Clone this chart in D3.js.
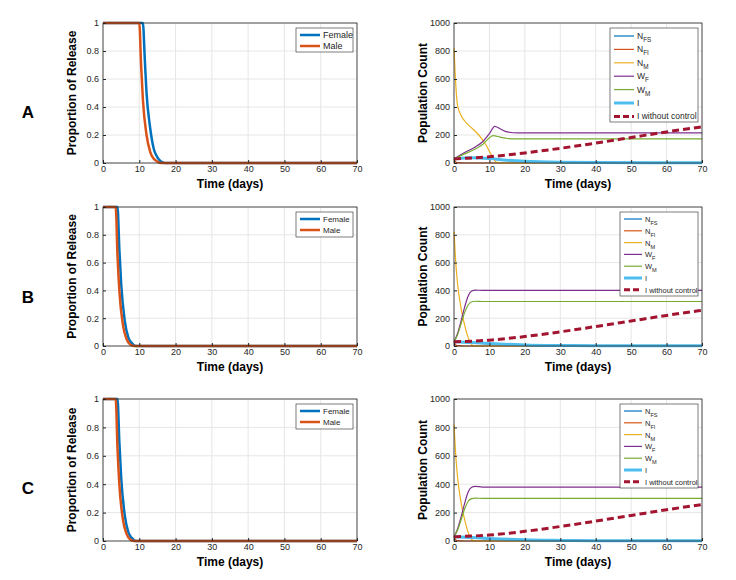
<!DOCTYPE html><html><head><meta charset="utf-8"><script src="https://cdn.jsdelivr.net/npm/d3@7"></script>
<style>body{margin:0;background:#fff}text{font-family:"Liberation Sans",Arial,sans-serif}</style></head><body><svg id="c" width="736" height="580"></svg>
<script>
const rowLabels=["A","B","C"];
const xTicks=[0,10,20,30,40,50,60,70];
const propTicks=[0,0.2,0.4,0.6,0.8,1];
const popTicks=[0,200,400,600,800,1000];
const femaleA=[[0,1],[11,1],[11.5,0.75],[12,0.5],[13,0.25],[14,0.1],[15,0.04],[16,0.01],[17,0],[70,0]];
const maleA=[[0,1],[10,1],[10.5,0.7],[11,0.45],[12,0.2],[13,0.08],[14,0.03],[15,0.01],[16,0],[70,0]];
const femaleB=[[0,1],[4,1],[4.5,0.7],[5,0.45],[6,0.18],[7,0.06],[8,0.02],[9,0],[70,0]];
const maleB=[[0,1],[3.5,1],[4,0.65],[4.5,0.4],[5.5,0.15],[6.5,0.05],[7.5,0.01],[8.5,0],[70,0]];
const femaleC=femaleB, maleC=maleB;
const NMA=[[0,820],[0.5,560],[1,410],[2,340],[3,300],[5,250],[7,200],[9,130],[10.5,60],[12,5],[13,0],[70,0]];
const WFA=[[0,30],[3,75],[6,115],[8,150],[10,210],[11.5,262],[13,245],[15,222],[18,215],[70,215]];
const WMA=[[0,30],[3,65],[6,100],[8,130],[10,180],[11,195],[13,185],[15,175],[18,172],[70,172]];
const IA=[[0,30],[5,38],[10,32],[15,20],[20,12],[30,5],[40,3],[70,2]];
const NFSA=[[0,30],[5,36],[10,30],[15,18],[20,10],[30,4],[70,1]];
const NFIA=[[0,30],[0.5,8],[1,2],[3,0],[70,0]];
const IwoA=[[0,30],[10,45],[20,72],[30,105],[40,142],[50,182],[60,222],[70,258]];
const NMB=[[0,820],[0.5,600],[1,450],[2,270],[3,150],[4,60],[5,10],[6,0],[70,0]];
const WFB=[[0,30],[1,90],[2,180],[3,280],[4,360],[5,395],[6,402],[8,400],[70,400]];
const WMB=[[0,30],[1,80],[2,160],[3,240],[4,295],[5,318],[6,322],[8,320],[70,320]];
const IB=[[0,30],[5,25],[10,18],[20,8],[30,4],[40,2],[70,1]];
const NFSB=[[0,28],[5,22],[10,15],[20,6],[30,3],[70,1]];
const NFIB=[[0,30],[0.5,8],[1,2],[3,0],[70,0]];
const IwoB=[[0,30],[10,42],[20,68],[30,102],[40,140],[50,180],[60,220],[70,257]];
const NMC=NMB;
const WFC=[[0,30],[1,85],[2,170],[3,265],[4,345],[5,378],[6,385],[8,380],[70,380]];
const WMC=[[0,30],[1,75],[2,150],[3,225],[4,280],[5,298],[6,302],[8,300],[70,300]];
const IC=IB, NFSC=NFSB, NFIC=NFIB, IwoC=IwoB;

const relData=[[femaleA,maleA],[femaleB,maleB],[femaleC,maleC]];
const popData=[[NFSA,NFIA,NMA,WFA,WMA,IA,IwoA],[NFSB,NFIB,NMB,WFB,WMB,IB,IwoB],[NFSC,NFIC,NMC,WFC,WMC,IC,IwoC]];
const popNames=[["N","FS"],["N","FI"],["N","M"],["W","F"],["W","M"],["I",""],["I without control",""]];
const popCols=["#0072BD","#D95319","#EDB120","#7E2F8E","#77AC30","#4DBEEE","#A2142F"];
const popW=[1.2,1.2,1.2,1.2,1.2,3,3];
const relNames=["Female","Male"], relCols=["#0072BD","#D95319"];

const svg=d3.select("#c");
const rows=[{t:23,b:163},{t:207,b:346},{t:399,b:541}];
const letterY=[112,297,488];
function panel(x0,x1,r,yDom,yT,yFmt,series,cols,widths,names,ylabel,leg){
  const x=d3.scaleLinear().domain([0,70]).range([x0,x1]);
  const y=d3.scaleLinear().domain(yDom).range([r.b,r.t]);
  const g=svg.append("g");
  g.selectAll(".gx").data(xTicks).join("line").attr("x1",d=>x(d)).attr("x2",d=>x(d)).attr("y1",r.t).attr("y2",r.b).attr("stroke","#e6e6e6");
  g.selectAll(".gy").data(yT).join("line").attr("x1",x0).attr("x2",x1).attr("y1",d=>y(d)).attr("y2",d=>y(d)).attr("stroke","#e6e6e6");
  const line=d3.line().x(d=>x(d[0])).y(d=>y(d[1])).curve(d3.curveMonotoneX);
  series.forEach((s,i)=>g.append("path").attr("d",line(s)).attr("fill","none").attr("stroke",cols[i]).attr("stroke-width",widths[i]).attr("stroke-dasharray",i==6?"7,4":null));
  g.append("g").attr("transform",`translate(0,${r.b})`).call(d3.axisBottom(x).tickValues(xTicks).tickSize(-3).tickPadding(3)).call(a=>{a.select(".domain").remove();a.selectAll("line").attr("stroke","#262626");a.selectAll("text").attr("font-size",9).attr("fill","#262626")});
  g.append("g").attr("transform",`translate(${x0},0)`).call(d3.axisLeft(y).tickValues(yT).tickFormat(yFmt).tickSize(-3).tickPadding(4)).call(a=>{a.select(".domain").remove();a.selectAll("line").attr("stroke","#262626");a.selectAll("text").attr("font-size",9).attr("fill","#262626")});
  g.append("rect").attr("x",x0).attr("y",r.t).attr("width",x1-x0).attr("height",r.b-r.t).attr("fill","none").attr("stroke","#262626").attr("stroke-width",0.8);
  g.append("text").attr("x",(x0+x1)/2).attr("y",r.b+25).attr("text-anchor","middle").attr("font-weight","bold").attr("font-size",12).text("Time (days)");
  g.append("text").attr("transform",`translate(${x0-27},${(r.t+r.b)/2}) rotate(-90)`).attr("text-anchor","middle").attr("font-weight","bold").attr("font-size",12).text(ylabel);
  const lg=g.append("g").attr("transform",`translate(${leg.x},${leg.y})`);
  lg.append("rect").attr("width",leg.w).attr("height",leg.h).attr("fill","#fff").attr("stroke","#262626").attr("stroke-width",0.6);
  names.forEach((n,i)=>{const yy=leg.p+i*leg.s;
    lg.append("line").attr("x1",4).attr("x2",4+leg.l).attr("y1",yy).attr("y2",yy).attr("stroke",cols[i]).attr("stroke-width",widths[i]).attr("stroke-dasharray",i==6?"6,3":null);
    const t=lg.append("text").attr("x",7+leg.l).attr("y",yy+3).attr("font-size",leg.f).attr("fill","#262626");
    if(Array.isArray(n)){t.append("tspan").text(n[0]);if(n[1])t.append("tspan").attr("dy",3).attr("font-size",leg.f*0.75).text(n[1]);}else t.text(n);
  });
}
rows.forEach((r,ri)=>{
  svg.append("text").attr("x",28).attr("y",letterY[ri]+6).attr("text-anchor","middle").attr("font-family","Liberation Serif").attr("font-weight","bold").attr("font-size",17).text(rowLabels[ri]);
  const ll=ri==0?{x:296,y:r.t+5,w:57,h:24,p:7,s:11,l:20,f:9}:{x:296,y:r.t+5,w:57,h:25,p:7,s:11,l:20,f:8};
  panel(103,357,r,[0,1000].map(v=>v/1000),propTicks,d=>d===0||d===1?d:d3.format(".1f")(d),relData[ri],relCols,[2.5,2.5],relNames,"Proportion of Release",ll);
  const pl=ri==0?{x:610,y:r.t+5,w:88,h:94,p:8,s:13.4,l:20,f:8.5}:{x:620,y:r.t+5,w:78,h:84,p:7,s:11.8,l:18,f:7.5};
  panel(454,702,r,[0,1000],popTicks,d=>d,popData[ri],popCols,popW,popNames,"Population Count",pl);
});
</script></body></html>
